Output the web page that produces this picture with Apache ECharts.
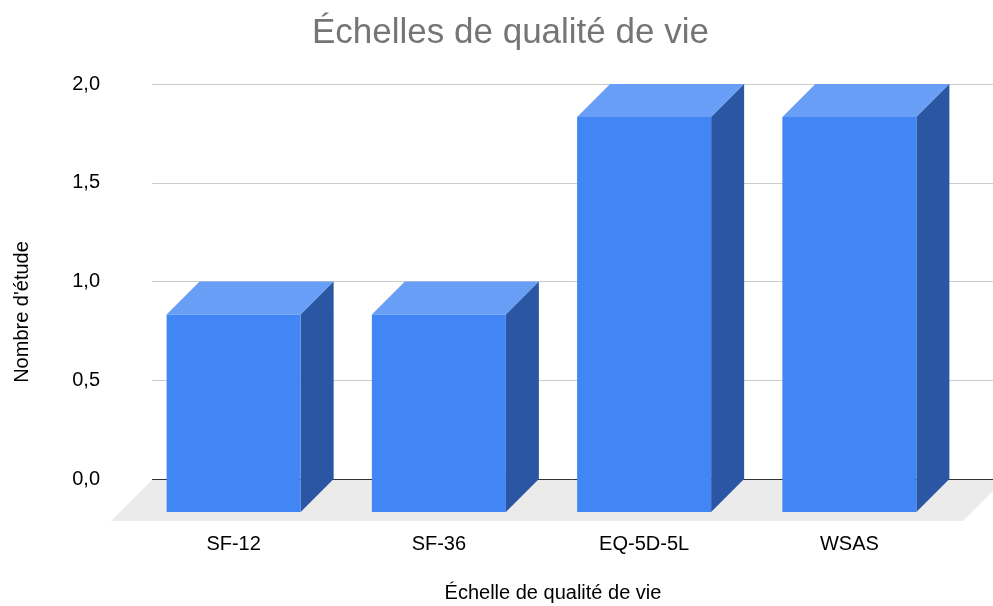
<!DOCTYPE html>
<html>
<head>
<meta charset="utf-8">
<script src="https://cdn.jsdelivr.net/npm/echarts@6/dist/echarts.min.js"></script>
<style>
  html, body { margin: 0; padding: 0; background: #fff; }
  #chart { width: 993px; height: 606px; }
</style>
</head>
<body>
<div id="chart"></div>
<script>
// données du graphique
const categories = ['SF-12', 'SF-36', 'EQ-5D-5L', 'WSAS'];
const studyCounts = [1, 1, 2, 2];
const yMin = 0, yMax = 2, yStep = 0.5;

const FONT = 'Liberation Sans, Arial, sans-serif';
const DEPTH = 33;        // profondeur des barres (px)
const FLOOR_DEPTH = 42;  // profondeur du sol
const BAR_RATIO = 0.653;
const FRONT = '#4285f4', TOP = '#699ef6', SIDE = '#2a56a3', FLOOR = '#ebebeb';

let chart = echarts.init(document.getElementById('chart'));

// sol gris sous les barres
function renderFloor(params, api) {
  const bw = api.size([1, 0])[0];
  const first = api.coord([0, 0]);
  const last = api.coord([categories.length - 1, 0]);
  const left = first[0] - bw / 2 - 20;
  const right = last[0] + bw / 2 + 11;
  const y0 = first[1];
  return {
    type: 'polygon',
    shape: { points: [[left, y0 + FLOOR_DEPTH], [right, y0 + FLOOR_DEPTH], [right + FLOOR_DEPTH - 1, y0 + 1], [left + FLOOR_DEPTH - 1, y0 + 1]] },
    style: { fill: FLOOR }
  };
}

// barre 3D : face avant, dessus, côté
function renderBar(params, api) {
  const top = api.coord([api.value(0), api.value(1)]);
  const base = api.coord([api.value(0), 0]);
  const bw = api.size([1, 0])[0] * BAR_RATIO;
  const xl = top[0] - bw / 2, xr = top[0] + bw / 2;
  const yt = top[1] + DEPTH, yb = base[1] + DEPTH;
  return {
    type: 'group',
    children: [
      { type: 'polygon', shape: { points: [[xl, yt], [xl + DEPTH, yt - DEPTH], [xr + DEPTH, yt - DEPTH], [xr, yt]] }, style: { fill: TOP } },
      { type: 'polygon', shape: { points: [[xr, yt], [xr + DEPTH, yt - DEPTH], [xr + DEPTH, base[1]], [xr, yb]] }, style: { fill: SIDE } },
      { type: 'rect', shape: { x: xl, y: yt, width: bw, height: yb - yt }, style: { fill: FRONT } }
    ]
  };
}

chart.setOption({
  animation: false,
  backgroundColor: '#fff',
  textStyle: { fontFamily: FONT },
  title: {
    text: 'Échelles de qualité de vie',
    left: 307,
    top: 11,
    textStyle: { fontFamily: FONT, fontSize: 35, fontWeight: 'normal', color: '#757575' }
  },
  graphic: [
    {
      type: 'text', x: 22, y: 312, rotation: Math.PI / 2,
      style: { text: "Nombre d'étude", font: '20px ' + FONT, fill: '#000', align: 'center', verticalAlign: 'middle' }
    },
    {
      type: 'text', x: 553, y: 593,
      style: { text: 'Échelle de qualité de vie', font: '20px ' + FONT, fill: '#000', align: 'center', verticalAlign: 'middle' }
    }
  ],
  grid: [
    { left: 152, right: 0, top: 84, bottom: 127 },   // plan arrière (lignes)
    { left: 131, right: 41, top: 84, bottom: 127 }   // plan avant (barres)
  ],
  xAxis: [
    { gridIndex: 0, type: 'category', data: categories, show: false },
    {
      gridIndex: 1, type: 'category', data: categories,
      axisLine: { show: false }, axisTick: { show: false }, splitLine: { show: false },
      axisLabel: { fontSize: 20, color: '#000', margin: 55, fontFamily: FONT }
    }
  ],
  yAxis: [
    {
      gridIndex: 0, type: 'value', min: yMin, max: yMax, interval: yStep,
      axisLine: { show: false }, axisTick: { show: false },
      axisLabel: { fontSize: 20, color: '#000', margin: 52, fontFamily: FONT,
        formatter: v => v.toFixed(1).replace('.', ',') },
      splitLine: { lineStyle: { color: ['#333333', '#cccccc', '#cccccc', '#cccccc', '#cccccc'], width: 1 } }
    },
    { gridIndex: 1, type: 'value', min: yMin, max: yMax, interval: yStep, show: false }
  ],
  series: [
    {
      type: 'custom', xAxisIndex: 1, yAxisIndex: 1, z: 1, silent: true,
      renderItem: renderFloor, data: [[0, 0]]
    },
    {
      type: 'custom', xAxisIndex: 1, yAxisIndex: 1, z: 3,
      renderItem: renderBar,
      encode: { x: 0, y: 1 },
      data: studyCounts.map((v, i) => [i, v])
    }
  ]
});
</script>
</body>
</html>
